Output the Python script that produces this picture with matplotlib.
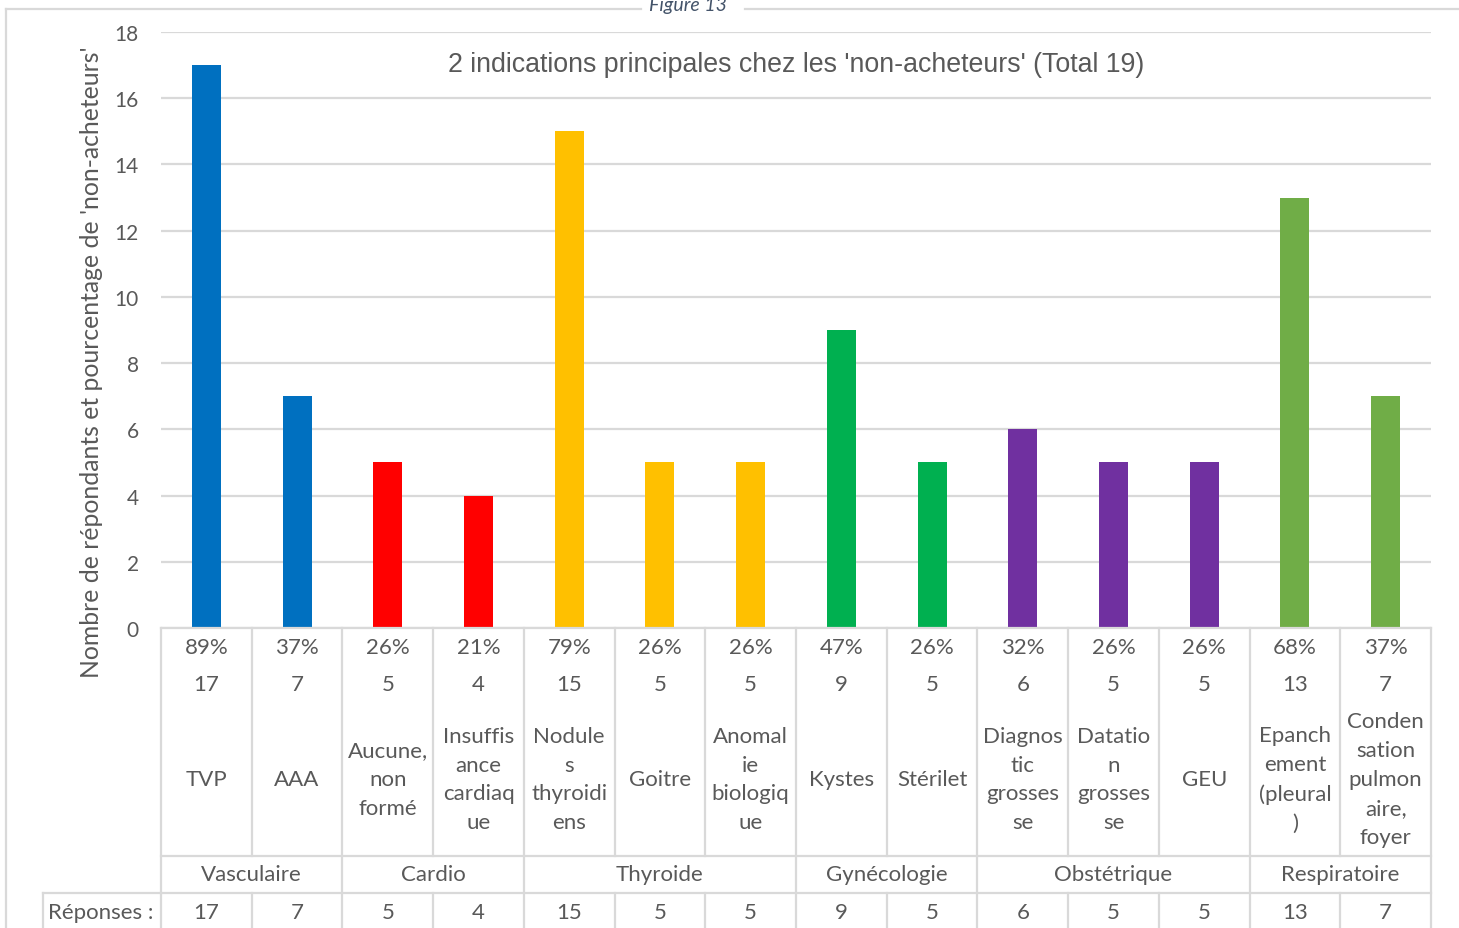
import matplotlib.pyplot as plt
import matplotlib.transforms as mtransforms
from matplotlib.lines import Line2D

# données : indications citées par les non-acheteurs
total = 19
labels = ["TVP", "AAA", "Aucune,\nnon\nformé", "Insuffis\nance\ncardiaq\nue",
          "Nodule\ns\nthyroidi\nens", "Goitre", "Anomal\nie\nbiologiq\nue",
          "Kystes", "Stérilet", "Diagnos\ntic\ngrosses\nse",
          "Datatio\nn\ngrosses\nse", "GEU", "Epanch\nement\n(pleural\n)",
          "Conden\nsation\npulmon\naire,\nfoyer"]
values = [17, 7, 5, 4, 15, 5, 5, 9, 5, 6, 5, 5, 13, 7]
groups = ["Vasculaire", "Cardio", "Thyroide", "Gynécologie", "Obstétrique", "Respiratoire"]
group_sizes = [2, 2, 3, 2, 3, 2]
group_colors = ["#0070C0", "#FF0000", "#FFC000", "#00B050", "#7030A0", "#70AD47"]

W, H = 1459, 929
TXT = "#595959"
GRID = "#D9D9D9"
FONT = ["Lato", "DejaVu Sans"]

plt.rcParams['font.family'] = FONT

fig = plt.figure(figsize=(W / 100, H / 100), dpi=100)
ax = fig.add_axes([161 / W, (H - 629) / H, 1270 / W, (629 - 33) / H])

colors = []
for c, n in zip(group_colors, group_sizes):
    colors += [c] * n
x = list(range(len(values)))
ax.bar(x, values, width=0.32, color=colors, zorder=3)

ax.set_xlim(-0.5, len(values) - 0.5)
ax.set_ylim(0, 18)
ax.set_yticks(range(0, 19, 2))
ax.set_xticks([])
ax.tick_params(axis='y', length=0, pad=16, labelsize=15, labelcolor=TXT)
ax.grid(axis='y', color=GRID, linewidth=1.6, zorder=0)
for s in ax.spines.values():
    s.set_visible(False)

ax.text(0.5, 0.947, "2 indications principales chez les 'non-acheteurs' (Total 19)",
        transform=ax.transAxes, ha='center', va='center', fontsize=19.3,
        color=TXT, family=["Liberation Sans", "DejaVu Sans"])

fig.text(92 / W, 1 - 362 / H, "Nombre de répondants et pourcentage de 'non-acheteurs'",
         rotation=90, ha='center', va='center', fontsize=17.8, color=TXT)

# transformation : x en catégories, y en pixels depuis le haut
px = mtransforms.Affine2D().scale(1 / W, -1 / H).translate(0, 1) + fig.transFigure
tr = mtransforms.blended_transform_factory(ax.transData, px)


def hline(x0, x1, y, t=tr):
    fig.add_artist(Line2D([x0, x1], [y, y], transform=t, color=GRID, lw=1.6))


def vline(xv, y0, y1, t=tr):
    fig.add_artist(Line2D([xv, xv], [y0, y1], transform=t, color=GRID, lw=1.6))


n = len(values)
left, right = -0.5, n - 0.5

# tableau de données sous l'axe
hline(left, right, 629)
hline(left, right, 857)
hline(43, 161, 894, t=px)
hline(left, right, 894)
vline(43, 894, 929, t=px)

bounds = [0]
for gs in group_sizes:
    bounds.append(bounds[-1] + gs)
for b in range(n + 1):
    xb = b - 0.5
    if b in bounds:
        vline(xb, 629, 929)
    else:
        vline(xb, 629, 857)
        vline(xb, 894, 929)

kw = dict(transform=tr, ha='center', va='center', fontsize=16, color=TXT)
for i, (v, lab) in enumerate(zip(values, labels)):
    fig.text(i, 648, f"{v / total:.0%}", **kw)
    fig.text(i, 685, str(v), **kw)
    fig.text(i, 780, lab, linespacing=1.56, **kw)
    fig.text(i, 913, str(v), **kw)

for g, b0, gs in zip(groups, bounds[:-1], group_sizes):
    fig.text(b0 + (gs - 1) / 2, 875, g, **kw)

fig.text(101, 913, "Réponses :", transform=px, ha='center', va='center',
         fontsize=16, color=TXT)

# cadre et légende de figure
hline(6, 641, 10, t=px)
hline(745, 1459, 10, t=px)
vline(6, 10, 929, t=px)
fig.text(688, 11, "Figure 13", transform=px, ha='center', va='baseline',
         fontsize=14, style='italic', color="#44546A")

fig.savefig("out.png", dpi=100)
